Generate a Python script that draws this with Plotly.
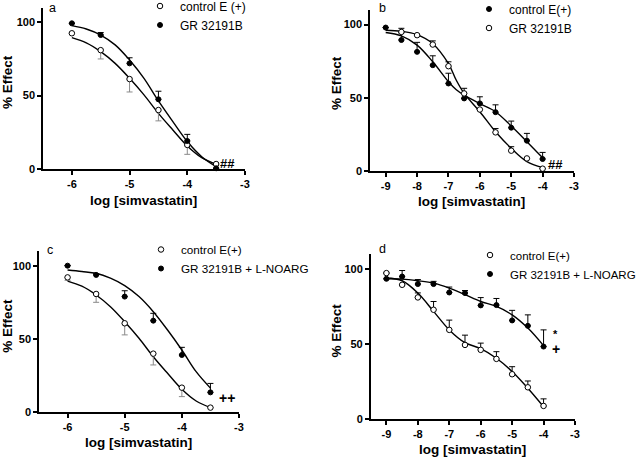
import plotly.graph_objects as go

W, H = 640, 458

# ---------------- data ----------------
# Panel a
a_x = [-6, -5.5, -5, -4.5, -4, -3.5]
a_ctrl = [92.5, 81, 61.3, 40.2, 16.4, 3.4]
a_ctrl_err = [0, 6, 8.8, 7.4, 6.4, 0]
a_gr = [99.3, 91.3, 72, 47.5, 19.1, 0.5]
a_gr_err = [0, 1.7, 3.8, 5.5, 4.5, 0]
a_fit_x = [-6, -5.75, -5.5, -5.25, -5, -4.75, -4.5, -4.25, -4, -3.75, -3.5]
a_fit_ctrl = [89.5, 86, 80, 72, 61.8, 50.5, 37.9, 26.6, 15.7, 7.7, 3.2]
a_fit_gr = [97.7, 95.4, 91.3, 84.6, 74.3, 61.8, 46.4, 32.3, 18.7, 8.4, 1.6]

# Panel b
b_x = [-9, -8.5, -8, -7.5, -7, -6.5, -6, -5.5, -5, -4.5, -4]
b_ctrl = [98, 89.5, 81.4, 72.3, 59.8, 49.6, 46.2, 40.2, 29.6, 20.7, 8.2]
b_ctrl_err = [0, 5, 6.5, 6.4, 7, 0, 4.5, 5, 4.5, 5, 4.5]
b_gr_x = [-8.5, -8, -7.5, -7, -6.5, -6, -5.5, -5, -4.5, -4]
b_gr = [95, 92.8, 86.4, 71.6, 53, 42, 26.4, 13.9, 8.6, 1.6]
b_gr_err = [2.5, 0, 2.5, 3, 3.5, 0, 2.6, 2.7, 0, 0]
b_fit_x = [-9, -8.5, -8, -7.5, -7, -6.75, -6.5, -6, -5.5, -5, -4.5, -4]
b_fit_ctrl = [94.6, 92.3, 86, 74.6, 61, 55.5, 51.8, 46, 40.5, 30.7, 20, 9]
b_fit_gr = [96.2, 95.5, 93.2, 87, 73.4, 62, 53, 40.5, 26.8, 15.5, 6.4, 2.3]

# Panel c
c_x = [-6, -5.5, -5, -4.5, -4, -3.5]
c_ctrl = [92, 80.7, 60.7, 40, 16.8, 3.2]
c_ctrl_err = [2, 5.7, 7.9, 7.7, 6.1, 0]
c_gr = [100, 93.7, 78.9, 62.5, 39.1, 13.6]
c_gr_err = [0, 0.8, 4, 5, 5.2, 6.1]
c_fit_x = [-6, -5.75, -5.5, -5.25, -5, -4.75, -4.5, -4.25, -4, -3.75, -3.5]
c_fit_ctrl = [89.5, 86, 80, 72, 61.8, 50.5, 37.9, 26.6, 15.7, 7.7, 3.2]
c_fit_gr = [97, 96, 94.8, 91.5, 86.4, 78.9, 68.6, 56.1, 42.5, 27.7, 16.5]

# Panel d
d_x = [-9, -8.5, -8, -7.5, -7, -6.5, -6, -5.5, -5, -4.5, -4]
d_ctrl = [97.3, 89.5, 81.1, 72.9, 59.5, 49.5, 46.2, 40.2, 30, 21.3, 8.9]
d_ctrl_err = [0, 0, 3, 5.5, 6.5, 6.5, 4.5, 4.8, 5, 4.2, 4.7]
d_gr = [93.5, 95, 90, 90, 84.4, 84, 75.8, 76, 65.8, 62.2, 48.4]
d_gr_err = [0, 4, 3, 1.8, 3.6, 1.7, 5.2, 4.4, 6.7, 7.3, 11.1]
d_fit_x = [-9, -8.5, -8, -7.5, -7, -6.5, -6, -5.5, -5, -4.5, -4]
d_fit_ctrl = [94, 92.2, 84, 71.8, 59.5, 51, 47, 40.6, 31.8, 20.7, 8.4]
d_fit_gr = [93.5, 93.3, 92.2, 90.6, 87.3, 82.9, 78.4, 75.1, 69.5, 60.7, 49]

# tick labels
ticks_ac = [-6, -5, -4, -3]
ticks_bd = [-9, -8, -7, -6, -5, -4, -3]
ticks_y = [0, 50, 100]

FONT = "Arial, Liberation Sans, sans-serif"


def px(x):
    return x / W


def py(y):
    return 1 - y / H


fig = go.Figure()


def add_panel(n, fit_x, fits, series, legend_name):
    xa = "x" if n == 1 else f"x{n}"
    ya = "y" if n == 1 else f"y{n}"
    for fy in fits:
        fig.add_trace(go.Scatter(x=fit_x, y=fy, mode="lines", xaxis=xa, yaxis=ya,
                                 line=dict(color="black", width=1.4, shape="spline", smoothing=1.0),
                                 showlegend=False, hoverinfo="skip", cliponaxis=False))
    for s in series:
        filled = s["filled"]
        up = s["up"]
        err = s["err"]
        zeros = [0] * len(err)
        fig.add_trace(go.Scatter(
            x=s["x"], y=s["y"], mode="markers", name=s["name"], xaxis=xa, yaxis=ya,
            legend=legend_name, cliponaxis=False,
            marker=dict(symbol="circle", size=5 if filled else 5.5,
                        color="black" if filled else "white",
                        line=dict(color="black", width=1)),
            error_y=dict(type="data", symmetric=False,
                         array=err if up else zeros,
                         arrayminus=zeros if up else err,
                         color=s.get("ecolor", "black"), thickness=1, width=3),
        ))


add_panel(1, a_fit_x, [a_fit_ctrl, a_fit_gr], [
    dict(x=a_x, y=a_ctrl, err=a_ctrl_err, up=False, filled=False, name="control E (+)", ecolor="#8a8a8a"),
    dict(x=a_x, y=a_gr, err=a_gr_err, up=True, filled=True, name="GR 32191B"),
], "legend")
add_panel(2, b_fit_x, [b_fit_ctrl, b_fit_gr], [
    dict(x=b_x, y=b_ctrl, err=b_ctrl_err, up=True, filled=True, name="control E(+)"),
    dict(x=b_gr_x, y=b_gr, err=b_gr_err, up=True, filled=False, name="GR 32191B"),
], "legend2")
add_panel(3, c_fit_x, [c_fit_ctrl, c_fit_gr], [
    dict(x=c_x, y=c_ctrl, err=c_ctrl_err, up=False, filled=False, name="control E(+)", ecolor="#8a8a8a"),
    dict(x=c_x, y=c_gr, err=c_gr_err, up=True, filled=True, name="GR 32191B + L-NOARG"),
], "legend3")
add_panel(4, d_fit_x, [d_fit_ctrl, d_fit_gr], [
    dict(x=d_x, y=d_ctrl, err=d_ctrl_err, up=True, filled=False, name="control E(+)"),
    dict(x=d_x, y=d_gr, err=d_gr_err, up=True, filled=True, name="GR 32191B + L-NOARG"),
], "legend4")

# axes geometry (pixels: left, right, bottom, top)
geo = {
    1: (43, 245, 169, 7.6, [-6.5, -3], ticks_ac),
    2: (370, 574, 171, 10, [-9.5, -3], ticks_bd),
    3: (39, 239, 412.3, 251, [-6.5, -3], ticks_ac),
    4: (370.7, 575, 419.3, 254, [-9.5, -3], ticks_bd),
}
layout = {}
for n, (l, r, b, t, xr, tv) in geo.items():
    xk = "xaxis" if n == 1 else f"xaxis{n}"
    yk = "yaxis" if n == 1 else f"yaxis{n}"
    ya = "y" if n == 1 else f"y{n}"
    xa = "x" if n == 1 else f"x{n}"
    common = dict(showline=True, linecolor="black", linewidth=1.5, ticks="outside",
                  ticklen=4, tickwidth=1.5, tickcolor="black", showgrid=False,
                  zeroline=False, fixedrange=True,
                  tickfont=dict(family=FONT, size=11, color="black", weight="bold"))
    layout[xk] = dict(domain=[px(l), px(r)], range=xr, anchor=ya, tickvals=tv,
                      ticktext=[str(v) for v in tv], **common)
    layout[yk] = dict(domain=[py(b), py(t)], range=[0, 110], anchor=xa, tickvals=ticks_y,
                      ticktext=[str(v) for v in ticks_y], **common)


def legend(x, top, size):
    return dict(x=px(x), y=py(top), xanchor="left", yanchor="top", borderwidth=0,
                tracegroupgap=0, itemwidth=30, bgcolor="rgba(0,0,0,0)",
                font=dict(family=FONT, size=size, color="black"))


layout["legend"] = legend(140, -8.5, 12)
layout["legend2"] = legend(469, -5.5, 12)
layout["legend3"] = legend(141, 235, 11.7)
layout["legend4"] = legend(470, 240.5, 11.5)

ann = []


def text(x, y, s, size=12, bold=False, angle=0):
    ann.append(dict(x=px(x), y=py(y), xref="paper", yref="paper", text=s, showarrow=False,
                    xanchor="center", yanchor="middle", textangle=angle,
                    font=dict(family=FONT, size=size, color="black",
                              weight="bold" if bold else "normal")))


# panel letters
text(52.5, 8, "a", 12.5)
text(382, 8, "b", 12.5)
text(49.5, 250, "c", 12.5)
text(382, 249, "d", 12.5)
# axis titles
for (x, y) in [(8, 82), (336.7, 83.3), (8, 325.7), (336.7, 330.7)]:
    text(x, y, "% Effect", 13.5, True, -90)
for (x, y) in [(143, 200), (471, 201.7), (138.8, 442.3), (472, 449)]:
    text(x, y, "log [simvastatin]", 13.5, True)
# significance marks
text(227, 163.5, "##", 13, True)
text(555.8, 164.5, "##", 13, True)
text(227, 398, "++", 14, True)
text(555, 334, "*", 11, True)
text(556.3, 349, "+", 14, True)

fig.update_layout(width=W, height=H, margin=dict(l=0, r=0, t=0, b=0, autoexpand=False),
                  paper_bgcolor="white", plot_bgcolor="white",
                  annotations=ann, **layout)

fig.write_html("out.html", config={"displayModeBar": False},
               post_script="document.body.style.margin='0px';")
